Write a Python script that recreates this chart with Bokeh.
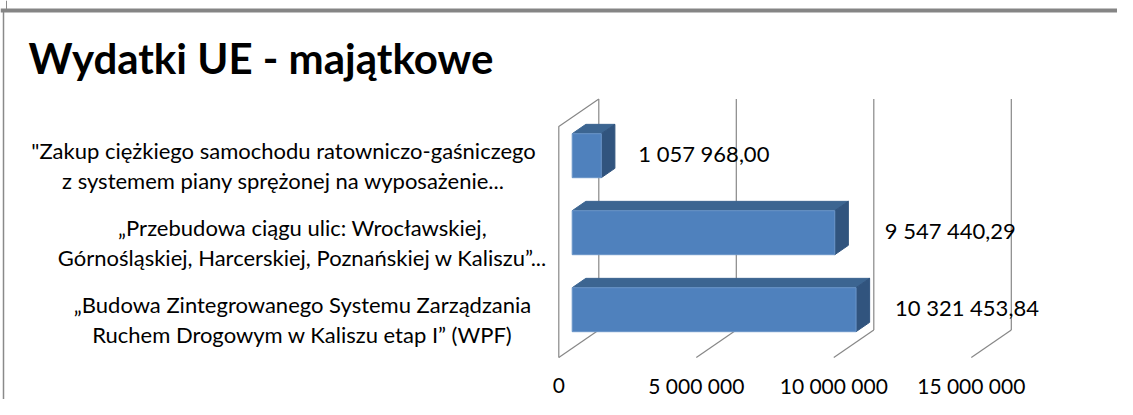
from bokeh.plotting import figure
from bokeh.models import Range1d, Label, ColumnDataSource, Span
from bokeh.core.properties import value
from bokeh.embed import file_html
from bokeh.resources import INLINE

# ---------------- data ----------------
title_text = "Wydatki UE - majątkowe"
categories = [
    "„Budowa Zintegrowanego Systemu Zarządzania\nRuchem Drogowym w Kaliszu etap I” (WPF)",
    "„Przebudowa ciągu ulic: Wrocławskiej,\nGórnośląskiej, Harcerskiej, Poznańskiej w Kaliszu”...",
    "\"Zakup ciężkiego samochodu ratowniczo-gaśniczego\nz systemem piany sprężonej na wyposażenie...",
]
values = [10321453.84, 9547440.29, 1057968.00]
value_labels = ["10 321 453,84", "9 547 440,29", "1 057 968,00"]
ticks = [0, 5000000, 10000000, 15000000]
tick_labels = ["0", "5 000 000", "10 000 000", "15 000 000"]

# ---------------- layout / style ----------------
W, H = 1117, 399
PX_PER_TICK = 137.5
K = (ticks[1] - ticks[0]) / PX_PER_TICK   # value units per pixel
ZERO_PX = 571.7                           # x pixel of value 0 (bar plane)
PX_PER_CAT = 77.0
CAT0_PX = 309.2                           # y pixel of first category centre
XS = -ZERO_PX * K
XE = XS + W * K
YS = -(H - CAT0_PX) / PX_PER_CAT
YE = YS + H / PX_PER_CAT

DEPTH_DX, DEPTH_DY = 40.0, 27.5          # full depth of the 3D box in px
T_BAR, BAR_DEPTH = 0.335, 0.34
BAR_HALF = 22.0 / PX_PER_CAT
FONT = "Lato"
GRID_COLOR = "#878787"
FRONT, TOP, SIDE = "#4F81BD", "#3C6591", "#31547E"
LABEL_CX = [302, 302, 283]               # centre x pixel of category label blocks
VALUE_DX = [39, 50, 37]                  # gap between bar end and its value label (px)

n = len(categories)
idx = list(range(n))


def proj(v, y, t):
    return (v + (t - T_BAR) * DEPTH_DX * K,
            y + (t - T_BAR) * DEPTH_DY / PX_PER_CAT)


def px_x(px):
    return XS + px * K


def px_y(py):
    return YS + (H - py) / PX_PER_CAT


p = figure(width=W, height=H, output_backend="svg", toolbar_location=None,
           x_range=Range1d(XS, XE), y_range=Range1d(YS, YE), min_border=0)
p.xaxis.visible = False
p.yaxis.visible = False
p.grid.visible = False
p.outline_line_color = None
p.background_fill_color = "white"
p.border_fill_color = "white"

# slide frame decoration
p.add_layout(Span(location=px_y(10), dimension="width", line_color="#858585", line_width=4))
p.segment(x0=[px_x(3)], y0=[px_y(10)], x1=[px_x(3)], y1=[px_y(H)],
          line_color="#8a8a8a", line_width=1.5)
p.segment(x0=[px_x(6)], y0=[px_y(0)], x1=[px_x(6)], y1=[px_y(9)],
          line_color="#8a8a8a", line_width=1)

lo, hi = -0.5, n - 0.5

# back wall gridlines + floor diagonals
gx, gy = [], []
for v in ticks:
    a = proj(v, lo, 1); b = proj(v, hi, 1)
    gx.append([a[0], b[0]]); gy.append([a[1], b[1]])
    c = proj(v, lo, 0)
    gx.append([c[0], a[0]]); gy.append([c[1], a[1]])
# left wall outline
f0 = proj(0, lo, 0); f1 = proj(0, hi, 0); b1 = proj(0, hi, 1)
gx.append([f0[0], f1[0], b1[0]]); gy.append([f0[1], f1[1], b1[1]])
p.multi_line(xs=gx, ys=gy, line_color=GRID_COLOR, line_width=1.2)

# bars
dxv = BAR_DEPTH * DEPTH_DX * K
dyv = BAR_DEPTH * DEPTH_DY / PX_PER_CAT
top_xs, top_ys, side_xs, side_ys = [], [], [], []
for i, v in zip(idx, values):
    t, b = i + BAR_HALF, i - BAR_HALF
    top_xs.append([0, v, v + dxv, dxv]); top_ys.append([t, t, t + dyv, t + dyv])
    side_xs.append([v, v, v + dxv, v + dxv]); side_ys.append([b, t, t + dyv, b + dyv])
p.patches(xs=top_xs, ys=top_ys, fill_color=TOP, line_color=TOP)
p.patches(xs=side_xs, ys=side_ys, fill_color=SIDE, line_color=SIDE)
src = ColumnDataSource(dict(y=idx, v=values, lab=value_labels, cat=categories,
                            b=[i - BAR_HALF for i in idx], t=[i + BAR_HALF for i in idx],
                            cx=[px_x(x) for x in LABEL_CX], dx=VALUE_DX))
p.quad(left=0, right="v", bottom="b", top="t",
       source=src, fill_color=FRONT, line_color="#6A95C8", line_width=1)

# value labels
p.text(x="v", y="y", text="lab", source=src, x_offset="dx", y_offset=-2,
       text_baseline="middle", text_align="left", text_font=value(FONT),
       text_font_size="22px", text_color="#000000")

# tick labels
tx = [proj(v, lo, 0)[0] for v in ticks]
ty = [proj(v, lo, 0)[1] for v in ticks]
p.text(x=tx, y=ty, text=tick_labels, y_offset=28, text_align="center",
       text_baseline="middle", text_font=value(FONT), text_font_size="21px",
       text_color="#000000")

# category labels
p.text(x="cx", y="y", text="cat", source=src, y_offset=10, text_align="center",
       text_baseline="middle", text_font=value(FONT), text_font_size="22px",
       text_line_height=1.1, text_color="#000000")

# title
p.add_layout(Label(x=28, y=342, x_units="screen", y_units="screen",
                   text=title_text, text_font=FONT, text_font_style="bold",
                   text_font_size="42px", text_baseline="alphabetic", text_color="#000000"))

open("out.html", "w").write(file_html(p, INLINE))
